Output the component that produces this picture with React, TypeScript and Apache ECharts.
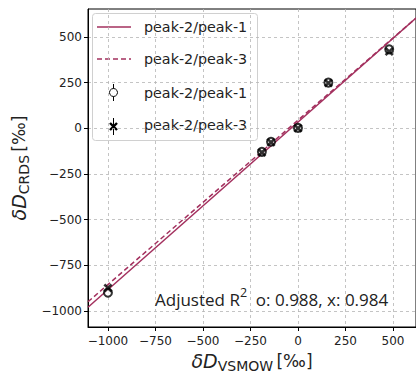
import React, { useEffect, useRef } from "react";
import * as echarts from "echarts";

// ---- data ----
const xTicks = [-1000, -750, -500, -250, 0, 250, 500];
const yTicks = [-1000, -750, -500, -250, 0, 250, 500];
const xRange = [-1105, 621];
const yRange = [-1088, 653];

// fitted lines (endpoints of the regression lines)
const fitPeak21 = [
  [-1105, -980],
  [621, 604],
];
const fitPeak23 = [
  [-1105, -950],
  [621, 603],
];

// measured points
const ptsPeak21 = [
  [-1000, -900],
  [-190, -129],
  [-142, -74],
  [0, 2],
  [160, 250],
  [480, 432],
];
const ptsPeak23 = [
  [-1000, -875],
  [-190, -132],
  [-142, -77],
  [0, 0],
  [160, 248],
  [480, 420],
];

const legendLabels = ["peak-2/peak-1", "peak-2/peak-3", "peak-2/peak-1", "peak-2/peak-3"];
const annotation = "o: 0.988, x: 0.984";

const LINE_COLOR = "#a3305e";
const TEXT = "#222";
const XMARK =
  "path://M0,2 L2,0 L5,3 L8,0 L10,2 L7,5 L10,8 L8,10 L5,7 L2,10 L0,8 L3,5 Z";

const fmt = (v: number) => String(v).replace("-", "\u2212");

export default function App() {
  const ref = useRef<HTMLDivElement>(null);
  useEffect(() => {
    document.body.style.margin = "0";
    const chart = echarts.init(ref.current!, null, { renderer: "svg" });
    const axisCommon = {
      axisLine: { show: true, onZero: false, lineStyle: { color: "#000", width: 1 } },
      axisTick: { show: true, inside: false, length: 4, lineStyle: { color: "#000" } },
      splitLine: {
        show: true,
        lineStyle: { color: "#b5b5b5", width: 0.8, type: [3, 3] },
      },
    };
    const nameRich = {
      i: { fontSize: 19, fontStyle: "italic", fontFamily: "DejaVu Sans", color: TEXT, lineHeight: 24 },
      s: { fontSize: 14, fontFamily: "DejaVu Sans", color: TEXT, verticalAlign: "bottom", lineHeight: 20 },
      n: { fontSize: 17, fontFamily: "DejaVu Sans", color: TEXT, lineHeight: 24 },
    };
    const option: any = {
      animation: false,
      grid: {
        left: 88,
        top: 9,
        right: -2,
        bottom: 52,
        show: true,
        borderColor: "#000",
        borderWidth: 1,
        backgroundColor: "transparent",
      },
      xAxis: {
        type: "value",
        min: xRange[0],
        max: xRange[1],
        ...axisCommon,
        axisTick: { ...axisCommon.axisTick, customValues: xTicks },
        axisLabel: {
          customValues: xTicks,
          formatter: fmt,
          color: TEXT,
          fontSize: 12,
          fontFamily: "DejaVu Sans",
          margin: 8,
        },
        name: "{i|δD}{s|VSMOW} {n|[‰]}",
        nameLocation: "middle",
        nameGap: 22,
        nameTextStyle: { rich: nameRich },
      },
      yAxis: {
        type: "value",
        min: yRange[0],
        max: yRange[1],
        ...axisCommon,
        axisTick: { ...axisCommon.axisTick, customValues: yTicks },
        axisLabel: {
          customValues: yTicks,
          formatter: fmt,
          color: TEXT,
          fontSize: 12,
          fontFamily: "DejaVu Sans",
          margin: 6,
        },
        name: "{i|δD}{s|CRDS} {n|[‰]}",
        nameLocation: "middle",
        nameGap: 50,
        nameTextStyle: { rich: nameRich },
      },
      series: [
        {
          type: "line",
          name: legendLabels[0],
          data: fitPeak21,
          showSymbol: false,
          symbol: "none",
          lineStyle: { color: LINE_COLOR, width: 1.5 },
          z: 3,
        },
        {
          type: "line",
          name: legendLabels[1],
          data: fitPeak23,
          showSymbol: false,
          symbol: "none",
          lineStyle: { color: LINE_COLOR, width: 1.5, type: [5, 3] },
          z: 3,
        },
        {
          type: "scatter",
          name: legendLabels[2],
          data: ptsPeak21,
          symbol: "emptyCircle",
          symbolSize: 8,
          itemStyle: { color: "#000", borderColor: "#333", borderWidth: 1 },
          z: 4,
        },
        {
          type: "scatter",
          name: legendLabels[3],
          data: ptsPeak23,
          symbol: XMARK,
          symbolSize: 9,
          itemStyle: { color: "#000" },
          z: 5,
        },
      ],
      graphic: [
        {
          type: "group",
          z: 100,
          children: [
            {
              type: "rect",
              shape: { x: 92.5, y: 13.5, width: 165, height: 127, r: 3 },
              style: { fill: "rgba(255,255,255,0.9)", stroke: "#d0d0d0", lineWidth: 1 },
            },
            {
              type: "line",
              shape: { x1: 97, y1: 27, x2: 131, y2: 27 },
              style: { stroke: LINE_COLOR, lineWidth: 1.5 },
            },
            {
              type: "line",
              shape: { x1: 97, y1: 59, x2: 131, y2: 59 },
              style: { stroke: LINE_COLOR, lineWidth: 1.5, lineDash: [5, 3] },
            },
            {
              type: "line",
              shape: { x1: 113.5, y1: 84, x2: 113.5, y2: 101 },
              style: { stroke: "#000", lineWidth: 1 },
            },
            {
              type: "circle",
              shape: { cx: 113.5, cy: 92.5, r: 4 },
              style: { fill: "#fff", stroke: "#000", lineWidth: 1 },
            },
            {
              type: "line",
              shape: { x1: 113.5, y1: 118, x2: 113.5, y2: 135 },
              style: { stroke: "#000", lineWidth: 1 },
            },
            {
              type: "line",
              shape: { x1: 110, y1: 123, x2: 117, y2: 130 },
              style: { stroke: "#000", lineWidth: 2.4 },
            },
            {
              type: "line",
              shape: { x1: 117, y1: 123, x2: 110, y2: 130 },
              style: { stroke: "#000", lineWidth: 2.4 },
            },
            ...legendLabels.map((t, i) => ({
              type: "text",
              x: 144,
              y: [27, 59, 93, 125][i],
              style: {
                text: t,
                fill: TEXT,
                font: "14.3px 'DejaVu Sans'",
                verticalAlign: "middle",
                align: "left",
              },
            })),
          ],
        },
        {
          type: "text",
          z: 100,
          x: 155,
          y: 299,
          style: {
            text: "Adjusted R{sup|2}  " + annotation,
            fill: TEXT,
            font: "17px 'Open Sans'",
            verticalAlign: "middle",
            align: "left",
            rich: {
              sup: { fontSize: 12.5, fontFamily: "Open Sans", verticalAlign: "top", fill: TEXT, lineHeight: 27 },
            },
          },
        },
      ],
    };
    chart.setOption(option);
    return () => chart.dispose();
  }, []);
  return <div ref={ref} style={{ width: 416, height: 379 }} />;
}
